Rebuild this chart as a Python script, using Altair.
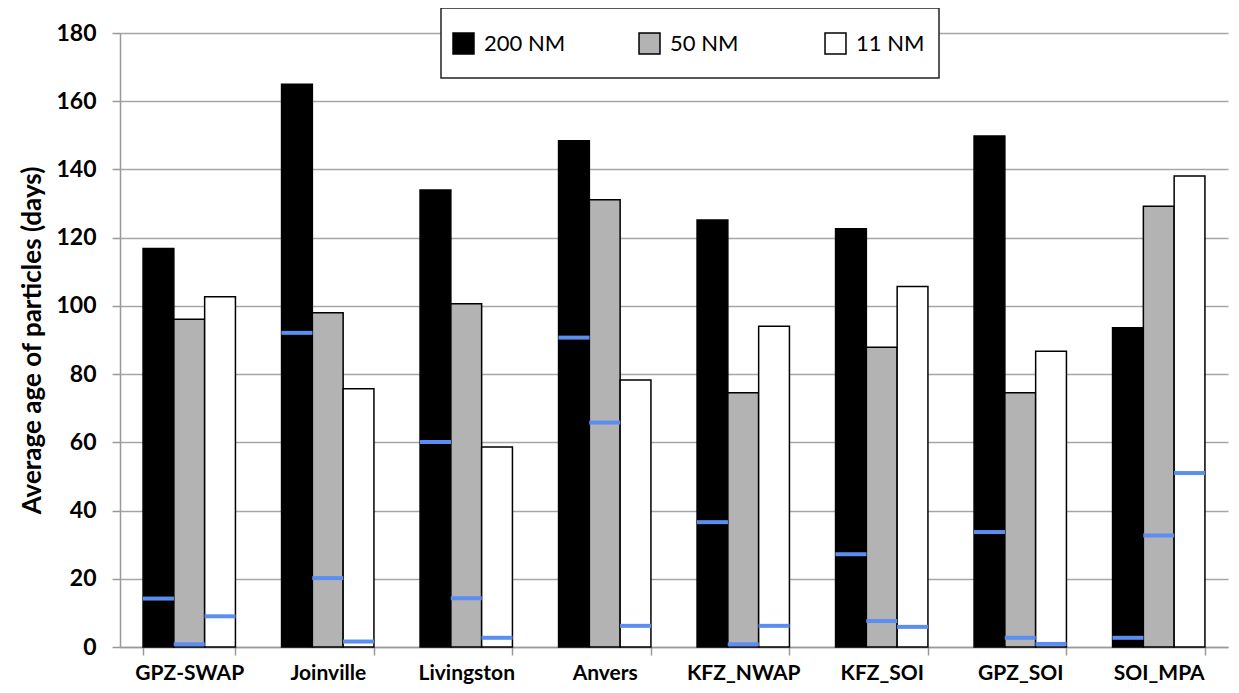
import altair as alt
import pandas as pd

categories = ["GPZ-SWAP", "Joinville", "Livingston", "Anvers", "KFZ_NWAP", "KFZ_SOI", "GPZ_SOI", "SOI_MPA"]
series = ["200 NM", "50 NM", "11 NM"]
nm200 = [116.8, 165.0, 134.0, 148.4, 125.2, 122.6, 149.8, 93.6]
nm50 = [96.1, 98.0, 100.6, 131.1, 74.5, 87.9, 74.5, 129.2]
nm11 = [102.7, 75.7, 58.6, 78.3, 94.0, 105.7, 86.7, 138.1]
med200 = [14.2, 92.1, 60.1, 90.7, 36.6, 27.2, 33.7, 2.7]
med50 = [0.8, 20.2, 14.3, 65.8, 0.8, 7.6, 2.7, 32.7]
med11 = [9.0, 1.6, 2.7, 6.2, 6.2, 5.9, 0.9, 51.0]
colors = ["#000000", "#b3b3b3", "#ffffff"]

rows = []
for s, vals, meds in zip(series, [nm200, nm50, nm11], [med200, med50, med11]):
    for c, v, m in zip(categories, vals, meds):
        rows.append({"site": c, "zone": s, "age": v, "median": m})
df = pd.DataFrame(rows)

FONT = "Lato"

x = alt.X("site:N", sort=categories, title=None,
          scale=alt.Scale(paddingInner=0.333, paddingOuter=0.1665),
          axis=alt.Axis(labelAngle=0, labelFont=FONT, labelFontSize=21, labelFontWeight="bold",
                        labelColor="black", tickBand="extent", tickSize=8, tickColor="#999999",
                        domainColor="#999999", domainWidth=1.5, tickWidth=1.5, labelPadding=7,
                        grid=False))
xo = alt.XOffset("zone:N", sort=series)

bars = alt.Chart(df).mark_bar(stroke="black", strokeWidth=1.5).encode(
    x=x,
    xOffset=xo,
    y=alt.Y("age:Q", scale=alt.Scale(domain=[0, 180]),
            title="Average age of particles (days)",
            axis=alt.Axis(values=list(range(0, 181, 20)), labelFont=FONT, labelFontSize=23,
                          labelFontWeight="bold", labelColor="black", tickSize=8,
                          tickColor="#999999", tickWidth=1.5, domainColor="#999999",
                          domainWidth=1.5, gridColor="#a6a6a6", gridWidth=1.5,
                          labelPadding=16, titleFont=FONT, titleFontSize=26,
                          titleFontWeight="bold", titleColor="black", titlePadding=10)),
    fill=alt.Fill("zone:N", sort=series,
                  scale=alt.Scale(domain=series, range=colors),
                  legend=alt.Legend(title=None, orient="none", legendX=332, legendY=-1,
                                    direction="horizontal", columns=3, gridAlign="all",
                                    columnPadding=70, symbolType="square", symbolSize=440,
                                    symbolStrokeColor="black", symbolStrokeWidth=1.5,
                                    labelFont=FONT, labelFontSize=22, labelColor="black",
                                    labelOffset=9, padding=0)),
)

medians = alt.Chart(df).mark_tick(color="#5b8ef0", thickness=4, size=31, opacity=1).encode(
    x=x,
    xOffset=xo,
    y=alt.Y("median:Q"),
)

box = alt.Chart(pd.DataFrame({"k": [0]})).mark_rect(
    fill="white", stroke="#222222", strokeWidth=1.5
).encode(
    x=alt.value(321), x2=alt.value(819), y=alt.value(-25), y2=alt.value(45)
)

chart = alt.layer(bars, medians, box).properties(
    width=1108, height=614,
    autosize=alt.AutoSizeParams(type="none"),
    padding={"left": 112, "top": 25, "right": 2, "bottom": 37},
).configure_view(stroke=None)

chart.save("out.html", embed_options={"renderer": "svg", "actions": False})
